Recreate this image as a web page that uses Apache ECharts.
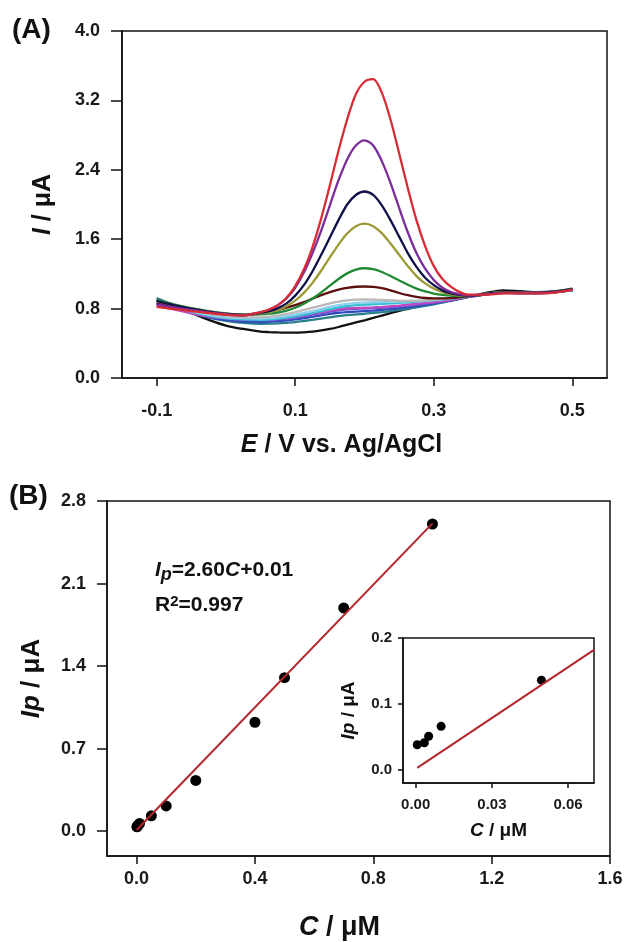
<!DOCTYPE html>
<html>
<head>
<meta charset="utf-8">
<script src="https://cdn.jsdelivr.net/npm/echarts@6/dist/echarts.min.js"></script>
<style>
html,body{margin:0;padding:0;background:#fff}
#chart{width:627px;height:942px}
</style>
</head>
<body>
<div id="chart"></div>
<script>
/* (A) voltammogrammes : potentiel commun (pas plus fin autour du pic) */
var E_V = [-0.1, -0.075, -0.05, -0.025, 0, 0.025,
           0.05, 0.0625, 0.075, 0.0875, 0.1, 0.1125, 0.125, 0.1375, 0.15, 0.1625, 0.175, 0.1875, 0.2,
           0.2125, 0.225, 0.2375, 0.25, 0.2625, 0.275, 0.2875, 0.3, 0.3125, 0.325, 0.3375, 0.35,
           0.375, 0.4, 0.425, 0.45, 0.475, 0.5];

var cBlack   = [0.90, 0.82, 0.75, 0.67, 0.605, 0.565,
                0.535, 0.529, 0.525, 0.523, 0.522, 0.527, 0.535, 0.548, 0.565, 0.588, 0.615, 0.64, 0.665,
                0.692, 0.72, 0.748, 0.775, 0.798, 0.82, 0.84, 0.86, 0.878, 0.895, 0.915, 0.935,
                0.98, 1.01, 1.0, 0.99, 1.0, 1.03];
var cTeal    = [0.92, 0.84, 0.76, 0.70, 0.66, 0.635,
                0.625, 0.626, 0.63, 0.637, 0.645, 0.657, 0.67, 0.685, 0.70, 0.713, 0.725, 0.733, 0.74,
                0.75, 0.76, 0.772, 0.785, 0.80, 0.815, 0.832, 0.85, 0.87, 0.89, 0.912, 0.935,
                0.965, 0.985, 0.98, 0.98, 0.99, 1.01];
var cBlue    = [0.87, 0.81, 0.75, 0.70, 0.67, 0.65,
                0.645, 0.649, 0.655, 0.664, 0.675, 0.69, 0.705, 0.723, 0.74, 0.752, 0.76, 0.766, 0.77,
                0.777, 0.785, 0.795, 0.805, 0.817, 0.83, 0.845, 0.86, 0.877, 0.895, 0.915, 0.935,
                0.965, 0.985, 0.98, 0.98, 0.99, 1.01];
var cViolet  = [0.86, 0.80, 0.75, 0.71, 0.685, 0.67,
                0.665, 0.669, 0.675, 0.684, 0.695, 0.712, 0.73, 0.748, 0.765, 0.78, 0.79, 0.797, 0.80,
                0.805, 0.81, 0.817, 0.825, 0.835, 0.845, 0.857, 0.87, 0.885, 0.90, 0.917, 0.935,
                0.965, 0.985, 0.98, 0.98, 0.99, 1.01];
var cMagenta = [0.84, 0.79, 0.745, 0.71, 0.69, 0.68,
                0.68, 0.684, 0.69, 0.699, 0.71, 0.727, 0.745, 0.763, 0.78, 0.795, 0.805, 0.809, 0.81,
                0.814, 0.82, 0.827, 0.835, 0.845, 0.855, 0.865, 0.875, 0.887, 0.90, 0.917, 0.935,
                0.965, 0.985, 0.98, 0.98, 0.99, 1.015];
var cCyan    = [0.88, 0.82, 0.765, 0.72, 0.69, 0.675,
                0.67, 0.676, 0.685, 0.696, 0.71, 0.73, 0.75, 0.772, 0.795, 0.815, 0.83, 0.84, 0.845,
                0.85, 0.855, 0.86, 0.865, 0.872, 0.88, 0.887, 0.895, 0.905, 0.915, 0.927, 0.94,
                0.965, 0.985, 0.98, 0.98, 0.99, 1.01];
var cSky     = [0.88, 0.82, 0.77, 0.73, 0.70, 0.69,
                0.685, 0.69, 0.70, 0.713, 0.73, 0.75, 0.77, 0.795, 0.82, 0.84, 0.855, 0.865, 0.87,
                0.873, 0.875, 0.878, 0.88, 0.885, 0.89, 0.895, 0.90, 0.91, 0.92, 0.93, 0.94,
                0.97, 0.99, 0.985, 0.985, 0.99, 1.015];
var cGrey    = [0.87, 0.82, 0.775, 0.74, 0.715, 0.70,
                0.70, 0.708, 0.72, 0.738, 0.76, 0.784, 0.81, 0.835, 0.86, 0.88, 0.895, 0.903, 0.905,
                0.904, 0.90, 0.895, 0.89, 0.888, 0.89, 0.894, 0.90, 0.91, 0.92, 0.93, 0.94,
                0.97, 0.99, 0.985, 0.985, 0.995, 1.02];
var cMaroon  = [0.86, 0.82, 0.785, 0.755, 0.735, 0.73,
                0.75, 0.765, 0.785, 0.81, 0.84, 0.875, 0.915, 0.955, 0.99, 1.02, 1.04, 1.052, 1.055,
                1.05, 1.035, 1.01, 0.98, 0.955, 0.935, 0.922, 0.917, 0.917, 0.922, 0.93, 0.94,
                0.965, 0.985, 0.985, 0.985, 0.995, 1.02];
var cGreen   = [0.90, 0.85, 0.805, 0.77, 0.745, 0.73,
                0.733, 0.741, 0.755, 0.777, 0.81, 0.856, 0.916, 0.987, 1.065, 1.141, 1.206, 1.25, 1.265,
                1.254, 1.222, 1.176, 1.125, 1.074, 1.031, 0.998, 0.974, 0.958, 0.949, 0.945, 0.942,
                0.97, 0.99, 0.985, 0.985, 0.995, 1.025];
var cOlive   = [0.89, 0.84, 0.80, 0.765, 0.74, 0.725,
                0.745, 0.757, 0.784, 0.827, 0.891, 0.981, 1.097, 1.238, 1.39, 1.538, 1.665, 1.75, 1.78,
                1.75, 1.67, 1.55, 1.42, 1.29, 1.175, 1.09, 1.03, 0.99, 0.965, 0.952, 0.945,
                0.97, 0.99, 0.985, 0.985, 0.995, 1.025];
var cNavy    = [0.89, 0.84, 0.80, 0.765, 0.74, 0.725,
                0.75, 0.77, 0.805, 0.86, 0.95, 1.07, 1.23, 1.42, 1.62, 1.82, 2.0, 2.11, 2.15,
                2.11, 1.99, 1.82, 1.63, 1.44, 1.28, 1.155, 1.07, 1.01, 0.975, 0.957, 0.945,
                0.97, 0.985, 0.985, 0.985, 0.995, 1.025];
var cPurple  = [0.85, 0.815, 0.785, 0.755, 0.735, 0.725,
                0.76, 0.79, 0.84, 0.92, 1.04, 1.215, 1.44, 1.70, 1.99, 2.28, 2.52, 2.68, 2.74,
                2.68, 2.50, 2.25, 1.96, 1.68, 1.44, 1.26, 1.13, 1.04, 0.99, 0.965, 0.95,
                0.965, 0.98, 0.98, 0.98, 0.99, 1.02];
var cRed     = [0.82, 0.795, 0.77, 0.75, 0.73, 0.72,
                0.76, 0.79, 0.84, 0.925, 1.06, 1.25, 1.51, 1.84, 2.22, 2.62, 2.98, 3.27, 3.415,
                3.445, 3.29, 2.98, 2.59, 2.19, 1.82, 1.52, 1.29, 1.14, 1.05, 0.99, 0.96,
                0.96, 0.975, 0.975, 0.975, 0.985, 1.015];

var curves = [
    [cBlack, '#111111'], [cTeal, '#2a7f8c'], [cBlue, '#2d4bc0'], [cViolet, '#7a55c8'],
    [cMagenta, '#c04ac4'], [cCyan, '#33c2d2'], [cSky, '#8fd0ee'], [cGrey, '#b9b9b9'],
    [cMaroon, '#5c1010'], [cGreen, '#1f8a33'], [cOlive, '#9c9a35'], [cNavy, '#10104a'],
    [cPurple, '#7a2c9a'], [cRed, '#d62c35']
];

/* (B) étalonnage */
var concB = [0.001, 0.003, 0.005, 0.01, 0.05, 0.1, 0.2, 0.4, 0.5, 0.7, 1.0];
var ipB   = [0.038, 0.042, 0.051, 0.066, 0.131, 0.215, 0.431, 0.924, 1.302, 1.893, 2.605];
var fitB  = [[0, 0.01], [1.0, 2.61]];

/* encart */
var concIn = [0.0006, 0.0034, 0.0051, 0.010, 0.0495];
var ipIn   = [0.038, 0.041, 0.051, 0.066, 0.136];
var fitIn  = [[0.0006, 0.003], [0.0702, 0.182]];

var FONT = 'Liberation Sans, Arial, sans-serif';
function tickLabel(size, margin, digits, values) {
    return {
        fontFamily: FONT, fontWeight: 'bold', fontSize: size, color: '#1a1a1a', margin: margin,
        customValues: values,
        formatter: function (v) { return (+v).toFixed(digits); }
    };
}
function axLine() { return {show: true, onZero: false, lineStyle: {color: '#111', width: 1.5}}; }
function axTick(len, values) { return {show: true, length: len, customValues: values, lineStyle: {color: '#111', width: 1.5}}; }
function nameStyle(size, pad) {
    var base = {fontFamily: FONT, fontWeight: 'bold', fontSize: size, color: '#111'};
    return {
        fontFamily: FONT, fontWeight: 'bold', fontSize: size, color: '#111',
        padding: pad || 0,
        rich: {
            i: Object.assign({}, base, {fontStyle: 'italic'}),
            n: base
        }
    };
}

var series = [];
curves.forEach(function (c) {
    series.push({
        type: 'line', xAxisIndex: 0, yAxisIndex: 0, smooth: 0.3, showSymbol: false,
        lineStyle: {color: c[1], width: 2.3}, itemStyle: {color: c[1]},
        data: E_V.map(function (e, i) { return [e, c[0][i]]; })
    });
});
series.push({
    type: 'line', xAxisIndex: 1, yAxisIndex: 1, showSymbol: false,
    lineStyle: {color: '#b3262b', width: 2}, data: fitB
});
series.push({
    type: 'scatter', xAxisIndex: 1, yAxisIndex: 1, symbolSize: 11, itemStyle: {color: '#000', opacity: 1},
    data: concB.map(function (c, i) { return [c, ipB[i]]; })
});
series.push({
    type: 'line', xAxisIndex: 2, yAxisIndex: 2, showSymbol: false, clip: true,
    lineStyle: {color: '#b3262b', width: 2}, data: fitIn
});
series.push({
    type: 'scatter', xAxisIndex: 2, yAxisIndex: 2, symbolSize: 9, itemStyle: {color: '#000', opacity: 1},
    data: concIn.map(function (c, i) { return [c, ipIn[i]]; })
});

var chart = echarts.init(document.getElementById('chart'), null, {renderer: 'canvas'});
chart.setOption({
    animation: false,
    backgroundColor: '#fff',
    grid: [
        {left: 122, top: 31, width: 485, height: 347, show: true, borderColor: '#111', borderWidth: 1.5},
        {left: 107, top: 501, width: 503, height: 357, show: true, borderColor: '#111', borderWidth: 1.5},
        {left: 403, top: 638, width: 191, height: 145, show: true, borderColor: '#111', borderWidth: 1.5, backgroundColor: '#fff'}
    ],
    xAxis: [
        {type: 'value', gridIndex: 0, min: -0.15, max: 0.55, splitLine: {show: false},
         axisLine: axLine(), axisTick: axTick(8, [-0.1, 0.1, 0.3, 0.5]),
         axisLabel: tickLabel(18, 24, 1, [-0.1, 0.1, 0.3, 0.5]),
         name: '{i|E}{n| / V vs. Ag/AgCl}', nameLocation: 'middle', nameGap: 55,
         nameTextStyle: nameStyle(25, [0, 46, 0, 0])},
        {type: 'value', gridIndex: 1, min: -0.1, max: 1.6, splitLine: {show: false},
         axisLine: axLine(), axisTick: axTick(8, [0, 0.4, 0.8, 1.2, 1.6]),
         axisLabel: tickLabel(18, 14, 1, [0, 0.4, 0.8, 1.2, 1.6]),
         name: '{i|C}{n| / μM}', nameLocation: 'middle', nameGap: 58,
         nameTextStyle: nameStyle(27, [0, 38, 0, 0])},
        {type: 'value', gridIndex: 2, min: -0.005, max: 0.0702, splitLine: {show: false},
         axisLine: axLine(), axisTick: axTick(5, [0, 0.03, 0.06]),
         axisLabel: tickLabel(15, 14, 2, [0, 0.03, 0.06]),
         name: '{i|C}{n| / μM}', nameLocation: 'middle', nameGap: 38, nameTextStyle: nameStyle(19)}
    ],
    yAxis: [
        {type: 'value', gridIndex: 0, min: 0, max: 4, interval: 0.8, splitLine: {show: false},
         axisLine: axLine(), axisTick: axTick(11),
         axisLabel: tickLabel(18, 22, 1),
         name: '{i|I}{n| / μA}', nameLocation: 'middle', nameGap: 66, nameTextStyle: nameStyle(25)},
        {type: 'value', gridIndex: 1, min: -0.21, max: 2.8, splitLine: {show: false},
         axisLine: axLine(), axisTick: axTick(10, [0, 0.7, 1.4, 2.1, 2.8]),
         axisLabel: tickLabel(18, 21, 1, [0, 0.7, 1.4, 2.1, 2.8]),
         name: '{i|Ip}{n| / μA}', nameLocation: 'middle', nameGap: 62, nameTextStyle: nameStyle(26)},
        {type: 'value', gridIndex: 2, min: -0.02, max: 0.2, splitLine: {show: false},
         axisLine: axLine(), axisTick: axTick(5, [0, 0.1, 0.2]),
         axisLabel: tickLabel(15, 11, 1, [0, 0.1, 0.2]),
         name: '{i|Ip}{n| / μA}', nameLocation: 'middle', nameGap: 45, nameTextStyle: nameStyle(19)}
    ],
    graphic: [
        {type: 'text', left: 12, top: 16, style: {text: '(A)', font: 'bold 28px ' + FONT, fill: '#111'}},
        {type: 'text', left: 9, top: 482, style: {text: '(B)', font: 'bold 28px ' + FONT, fill: '#111'}},
        {type: 'text', left: 155, top: 560, style: {
            text: '{i|I}{s|p}{n|=2.60}{i|C}{n|+0.01}',
            rich: {
                i: {fontFamily: FONT, fontWeight: 'bold', fontStyle: 'italic', fontSize: 21, fill: '#111'},
                s: {fontFamily: FONT, fontWeight: 'bold', fontStyle: 'italic', fontSize: 18, fill: '#111', padding: [9, 0, 0, 0]},
                n: {fontFamily: FONT, fontWeight: 'bold', fontSize: 21, fill: '#111'}
            }
        }},
        {type: 'text', left: 155, top: 594, style: {
            text: '{n|R}{u|2}{n|=0.997}',
            rich: {
                n: {fontFamily: FONT, fontWeight: 'bold', fontSize: 21, fill: '#111'},
                u: {fontFamily: FONT, fontWeight: 'bold', fontSize: 15, fill: '#111', padding: [0, 0, 8, 0]}
            }
        }}
    ],
    series: series
});
</script>
</body>
</html>
